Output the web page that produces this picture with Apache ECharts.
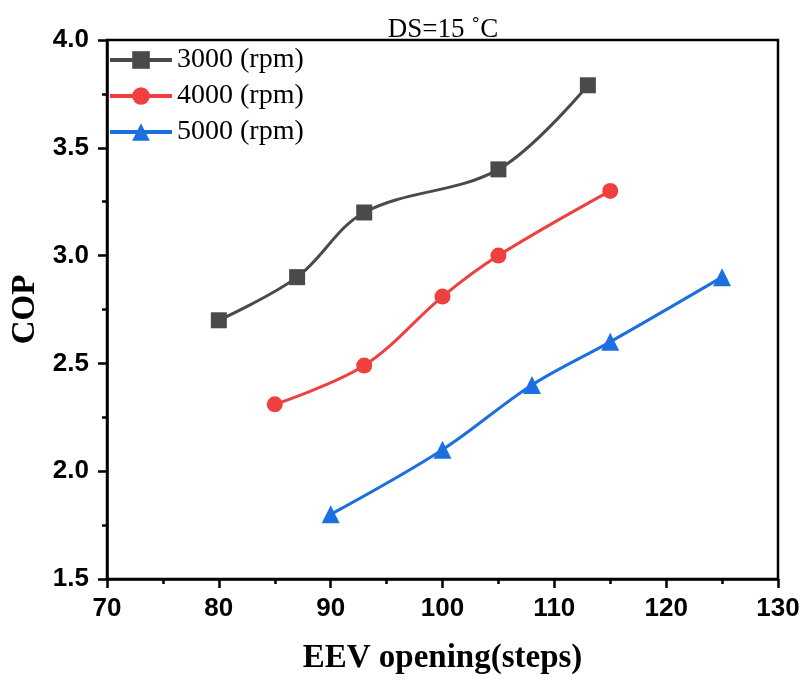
<!DOCTYPE html>
<html>
<head>
<meta charset="utf-8">
<script src="https://cdn.jsdelivr.net/npm/echarts@6/dist/echarts.min.js"></script>
<style>
  html, body { margin: 0; padding: 0; background: #fff; }
  #chart { width: 804px; height: 680px; }
</style>
</head>
<body>
<div id="chart"></div>
<script>
// values
var seriesNames = ['3000 (rpm)', '4000 (rpm)', '5000 (rpm)']
var x3000 = [80, 87, 93, 105, 113]
var cop3000 = [2.70, 2.90, 3.20, 3.40, 3.79]
var x4000 = [85, 93, 100, 105, 115]
var cop4000 = [2.31, 2.49, 2.81, 3.00, 3.30]
var x5000 = [90, 100, 108, 115, 125]
var cop5000 = [1.80, 2.10, 2.40, 2.60, 2.90]

function pairs(xs, ys) {
  return xs.map(function (x, i) { return [x, ys[i]] })
}

var serif = '"Liberation Serif", "Times New Roman", serif'
var sans = '"Liberation Sans", Arial, sans-serif'

var chart = echarts.init(document.getElementById('chart'))

function line(name, data, color, symbol, size) {
  return {
    name: name,
    type: 'line',
    data: data,
    smooth: 0.35,
    symbol: symbol,
    symbolSize: size,
    itemStyle: { color: color },
    lineStyle: { color: color, width: 3 },
    z: 3
  }
}

chart.setOption({
  animation: false,
  title: {
    text: 'DS=15 ˚C',
    left: 438,
    textAlign: 'center',
    top: 11,
    textStyle: { fontFamily: serif, fontSize: 27, fontWeight: 'normal', color: '#000' }
  },
  grid: {
    left: 107,
    right: 26,
    top: 40,
    bottom: 99,
    show: true,
    borderColor: '#000',
    borderWidth: 2.5,
    backgroundColor: 'transparent'
  },
  legend: {
    orient: 'vertical',
    left: 108,
    top: 46,
    padding: 0,
    itemWidth: 62,
    itemHeight: 22,
    itemGap: 8,
    lineStyle: { width: 4 },
    data: seriesNames,
    textStyle: { fontFamily: serif, fontSize: 28, color: '#000', padding: [0, 0, 0, 0] }
  },
  xAxis: {
    type: 'value',
    min: 70,
    max: 130,
    interval: 10,
    name: 'EEV opening(steps)',
    nameLocation: 'middle',
    nameGap: 63,
    nameTextStyle: { fontFamily: serif, fontSize: 33, fontWeight: 'bold', color: '#000' },
    axisLine: { show: true, lineStyle: { color: '#000', width: 2.5 } },
    axisTick: { show: true, inside: false, length: 9, lineStyle: { color: '#000', width: 2.5 } },
    minorTick: { show: true, splitNumber: 2, length: 5, lineStyle: { color: '#000', width: 2.5 } },
    axisLabel: { margin: 17, fontFamily: sans, fontSize: 26, fontWeight: 'bold', color: '#000' },
    splitLine: { show: false }
  },
  yAxis: {
    type: 'value',
    min: 1.5,
    max: 4.0,
    interval: 0.5,
    name: 'COP',
    nameLocation: 'middle',
    nameGap: 64,
    nameTextStyle: { fontFamily: serif, fontSize: 33, fontWeight: 'bold', color: '#000' },
    axisLine: { show: true, lineStyle: { color: '#000', width: 2.5 } },
    axisTick: { show: true, inside: false, length: 9, lineStyle: { color: '#000', width: 2.5 } },
    minorTick: { show: true, splitNumber: 2, length: 5, lineStyle: { color: '#000', width: 2.5 } },
    axisLabel: {
      margin: 18,
      fontFamily: sans,
      fontSize: 26,
      fontWeight: 'bold',
      color: '#000',
      formatter: function (v) { return v.toFixed(1) }
    },
    splitLine: { show: false }
  },
  series: [
    line(seriesNames[0], pairs(x3000, cop3000), '#4a4a4a', 'rect', 16),
    line(seriesNames[1], pairs(x4000, cop4000), '#ef4040', 'circle', 16),
    line(seriesNames[2], pairs(x5000, cop5000), '#1c6fe0', 'triangle', 18)
  ]
})
</script>
</body>
</html>
